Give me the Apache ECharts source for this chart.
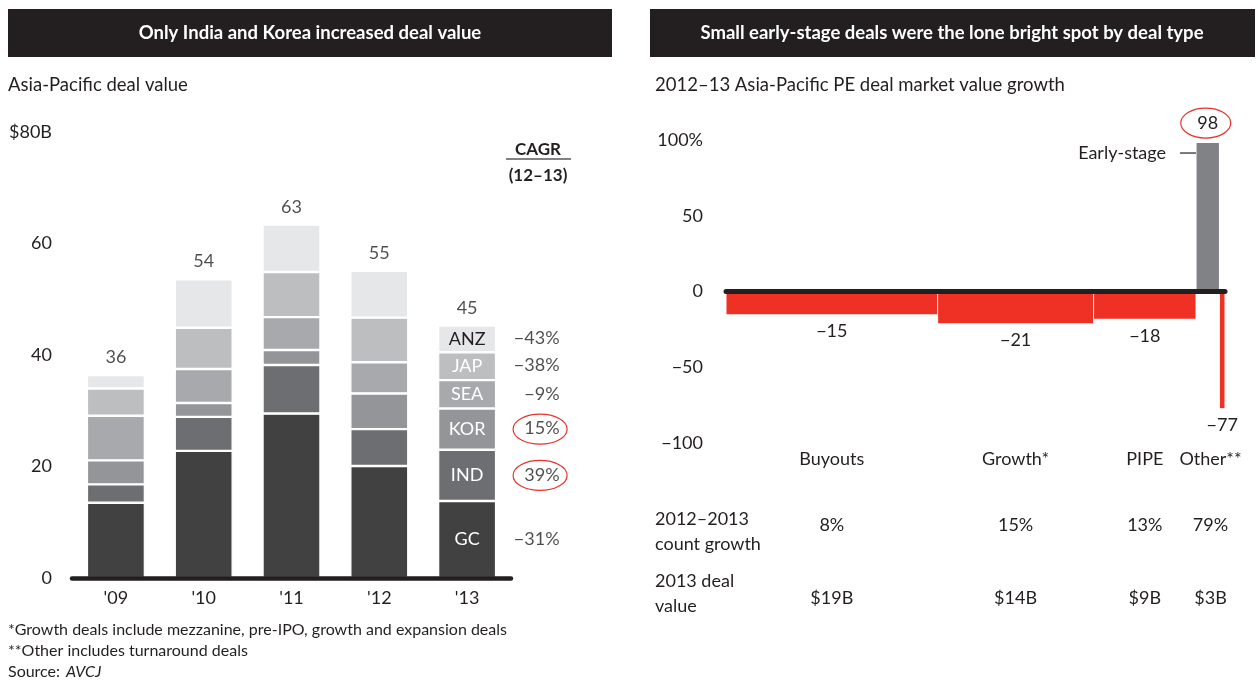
<!DOCTYPE html>
<html>
<head>
<meta charset="utf-8">
<script src="https://cdn.jsdelivr.net/npm/echarts@6/dist/echarts.min.js"></script>
<style>
  html, body { margin: 0; padding: 0; background: #fff; }
  #chart-container { width: 1258px; height: 680px; }
</style>
</head>
<body>
<div id="chart-container"></div>
<script>
/* ── Left panel: Asia-Pacific deal value by region ($B) ─────────────────── */
var years   = ["'09", "'10", "'11", "'12", "'13"]
var regions = ['GC', 'IND', 'KOR', 'SEA', 'JAP', 'ANZ']
var gc  = [13.5, 22.8, 29.5, 20.1, 13.8]
var ind = [3.3, 6.1, 8.7, 6.6, 9.2]
var kor = [4.3, 2.5, 2.7, 6.4, 7.4]
var sea = [8.0, 6.1, 5.9, 5.6, 5.1]
var jap = [4.9, 7.4, 8.1, 8.0, 5.0]
var anz = [2.4, 8.7, 8.5, 8.4, 4.8]
var cagr = [-31, 39, 15, -9, -38, -43]
var circledRegions = ['KOR', 'IND']

/* ── Right panel: value growth by deal type ─────────────────────────────── */
var dealTypes   = ['Buyouts', 'Growth*', 'PIPE', 'Early-stage', 'Turnaround']
var dealValue13 = [19, 14, 9.2, 2.1, 0.5]      // $B, drives bar width
var valueGrowth = [-15, -21, -18, 98, -77]
var barNotes    = ['', '', '', 'Early-stage', '']
var columns     = ['Buyouts', 'Growth*', 'PIPE', 'Other**']
var columnBars  = [[0], [1], [2], [3, 4]]
var countGrowth = [8, 15, 13, 79]
var columnValue = [19, 14, 9, 3]
var circledValue = 98

var FONT = 'Lato, "Noto Sans", sans-serif'
var INK = '#231f20'
var COLOR = {
  region: ['#414142', '#6d6e71', '#939598', '#a7a9ac', '#bcbec0', '#e6e7e8'],
  red:  '#ee3124',
  gray: '#808285',
  mark: '#e8322b'
}

var chart = echarts.init(document.getElementById('chart-container'), null, { renderer: 'canvas' })

function minus(v) { return v < 0 ? '\u2212' + Math.abs(v) : String(v) }

function txt(text, x, y, size, opts) {
  opts = opts || {}
  return {
    type: 'text', x: x, y: y, silent: true,
    style: {
      text: text,
      font: (opts.bold ? 'bold ' : '') + (opts.italic ? 'italic ' : '') + size + 'px ' + FONT,
      fill: opts.color || INK,
      align: opts.align || 'left',
      verticalAlign: 'middle',
      lineHeight: opts.lineHeight || size * 1.2
    }
  }
}

/* derived values */
var regionValues = [gc, ind, kor, sea, jap, anz]
var last = years.length - 1
var totals = years.map(function (y, i) {
  return regionValues.reduce(function (s, arr) { return s + arr[i] }, 0)
})
var mids = [], acc = 0
regionValues.forEach(function (arr) { mids.push(acc + arr[last] / 2); acc += arr[last] })

var starts = [], xMax = 0
dealValue13.forEach(function (w) { starts.push(xMax); xMax += w })
var dealBars = dealTypes.map(function (t, i) {
  return [starts[i], starts[i] + dealValue13[i], valueGrowth[i], i]
})
var columnData = columns.map(function (c, j) {
  var b = columnBars[j]
  return [starts[b[0]], starts[b[b.length - 1]] + dealValue13[b[b.length - 1]], 0, j]
})

/* ── series ─────────────────────────────────────────────────────────────── */
var regionSeries = regions.map(function (r, k) {
  return {
    name: r, type: 'bar', stack: 'deal', xAxisIndex: 0, yAxisIndex: 0,
    barWidth: 58, data: regionValues[k], silent: true,
    itemStyle: { color: COLOR.region[k], borderColor: '#fff', borderWidth: 1.2 },
    label: {
      show: true, position: 'inside', fontFamily: FONT, fontSize: 18,
      color: k === regions.length - 1 ? INK : '#fff',
      formatter: function (p) { return p.dataIndex === last ? r : '' }
    }
  }
})

var totalSeries = {
  type: 'scatter', xAxisIndex: 0, yAxisIndex: 0, symbolSize: 1, silent: true,
  itemStyle: { color: 'rgba(0,0,0,0)' },
  data: totals.map(function (t, i) { return [i, t] }),
  label: {
    show: true, position: 'top', distance: 8, fontFamily: FONT, fontSize: 18, color: INK,
    formatter: function (p) { return Math.round(p.value[1]) }
  }
}

var cagrSeries = {
  type: 'scatter', xAxisIndex: 0, yAxisIndex: 0, symbolSize: 1, silent: true,
  itemStyle: { color: 'rgba(0,0,0,0)' },
  data: mids.map(function (m) { return [last, m] }),
  label: {
    show: true, position: [93, 0], align: 'right', verticalAlign: 'middle',
    fontFamily: FONT, fontSize: 18, color: INK,
    formatter: function (p) { return minus(cagr[p.dataIndex]) + '%' }
  }
}

function renderDealBar(params, api) {
  var i = api.value(3), v = api.value(2)
  var p0 = api.coord([api.value(0), 0])
  var p1 = api.coord([api.value(1), v])
  var top = Math.min(p0[1], p1[1]), h = Math.abs(p1[1] - p0[1])
  var cx = (p0[0] + p1[0]) / 2
  var kids = [{
    type: 'rect',
    shape: { x: p0[0] + 0.5, y: top, width: p1[0] - p0[0] - 1, height: h },
    style: { fill: v < 0 ? COLOR.red : COLOR.gray }
  }, txt(minus(v), cx, v < 0 ? top + h + 17 : top - 20, 18, { align: 'center' })]
  if (barNotes[i]) {
    kids.push(txt(barNotes[i], p0[0] - 30, top + 10, 18, { align: 'right' }))
    kids.push({
      type: 'line',
      shape: { x1: p0[0] - 16, y1: top + 10, x2: p0[0], y2: top + 10 },
      style: { stroke: INK, lineWidth: 1.2 }
    })
  }
  return { type: 'group', children: kids }
}

function renderColumn(params, api) {
  var j = api.value(3)
  var cx = (api.coord([api.value(0), 0])[0] + api.coord([api.value(1), 0])[0]) / 2
  var base = api.coord([0, -100])[1]
  return {
    type: 'group',
    children: [
      txt(columns[j], cx, base + 16, 18, { align: 'center' }),
      txt(countGrowth[j] + '%', cx, base + 82, 18, { align: 'center' }),
      txt('$' + columnValue[j] + 'B', cx, base + 155, 18, { align: 'center' })
    ]
  }
}

/* ── static texts ───────────────────────────────────────────────────────── */
var graphics = [
  { type: 'rect', shape: { x: 8, y: 9, width: 604, height: 48 }, style: { fill: INK }, silent: true },
  { type: 'rect', shape: { x: 650, y: 9, width: 605, height: 48 }, style: { fill: INK }, silent: true },
  txt('Only India and Korea increased deal value', 310, 33, 18.5, { bold: true, color: '#fff', align: 'center' }),
  txt('Small early-stage deals were the lone bright spot by deal type', 952, 33, 18.5, { bold: true, color: '#fff', align: 'center' }),
  txt('Asia-Pacific deal value', 8, 85, 18.5),
  txt('2012\u201313 Asia-Pacific PE deal market value growth', 655, 85, 18.5),
  txt('CAGR', 538, 150, 17, { bold: true, align: 'center' }),
  { type: 'line', shape: { x1: 506, y1: 159, x2: 571, y2: 159 }, style: { stroke: '#808285', lineWidth: 2 }, silent: true },
  txt('(12\u201313)', 538, 176, 17, { bold: true, align: 'center' }),
  txt('2012\u20132013\ncount growth', 655, 532, 18, { lineHeight: 25 }),
  txt('2013 deal\nvalue', 655, 594, 18, { lineHeight: 25 }),
  txt('*Growth deals include mezzanine, pre-IPO, growth and expansion deals', 8, 630, 16),
  txt('**Other includes turnaround deals', 8, 651, 16),
  txt('Source:', 8, 672, 16),
  txt('AVCJ', 66, 672, 16, { italic: true })
]

var axisText = { fontFamily: FONT, fontSize: 18, color: INK }

chart.setOption({
  animation: false,
  backgroundColor: '#fff',
  grid: [
    { left: 72, top: 132, width: 439, height: 446 },
    { left: 726, top: 140, width: 499, height: 303 }
  ],
  xAxis: [{
    type: 'category', gridIndex: 0, data: years, z: 5,
    axisLine: { lineStyle: { color: INK, width: 4.5 } },
    axisTick: { show: false },
    axisLabel: Object.assign({ margin: 11 }, axisText)
  }, {
    type: 'value', gridIndex: 1, min: 0, max: xMax, z: 5,
    axisLine: { onZero: true, lineStyle: { color: INK, width: 5 } },
    axisTick: { show: false }, axisLabel: { show: false }, splitLine: { show: false }
  }],
  yAxis: [{
    type: 'value', gridIndex: 0, min: 0, max: 80, interval: 20,
    axisLine: { show: false }, axisTick: { show: false }, splitLine: { show: false },
    axisLabel: Object.assign({ margin: 20, formatter: function (v) { return v === 80 ? '$80B' : v } }, axisText)
  }, {
    type: 'value', gridIndex: 1, min: -100, max: 100, interval: 50,
    axisLine: { show: false }, axisTick: { show: false }, splitLine: { show: false },
    axisLabel: Object.assign({ margin: 23, formatter: function (v) { return v === 100 ? '100%' : minus(v) } }, axisText)
  }],
  series: regionSeries.concat([totalSeries, cagrSeries, {
    type: 'custom', xAxisIndex: 1, yAxisIndex: 1, silent: true,
    encode: { x: [0, 1], y: 2 },
    renderItem: renderDealBar, data: dealBars
  }, {
    type: 'custom', xAxisIndex: 1, yAxisIndex: 1, silent: true,
    encode: { x: [0, 1], y: 2 },
    renderItem: renderColumn, data: columnData
  }]),
  graphic: graphics
})

/* ── hand-drawn style circles round the highlighted figures ─────────────── */
var marks = circledRegions.map(function (r) {
  var pt = chart.convertToPixel({ gridIndex: 0 }, [last, mids[regions.indexOf(r)]])
  return { cx: pt[0] + 73, cy: pt[1], rx: 27, ry: 15 }
})
var vi = valueGrowth.indexOf(circledValue)
var vp = chart.convertToPixel({ gridIndex: 1 }, [starts[vi] + dealValue13[vi] / 2, circledValue])
marks.push({ cx: vp[0] - 2, cy: vp[1] - 20, rx: 25, ry: 15 })

chart.setOption({
  graphic: graphics.concat(marks.map(function (m) {
    return { type: 'ellipse', shape: m, silent: true, style: { fill: 'none', stroke: COLOR.mark, lineWidth: 1.2 } }
  }))
})

window.addEventListener('resize', function () { chart.resize() })
</script>
</body>
</html>
